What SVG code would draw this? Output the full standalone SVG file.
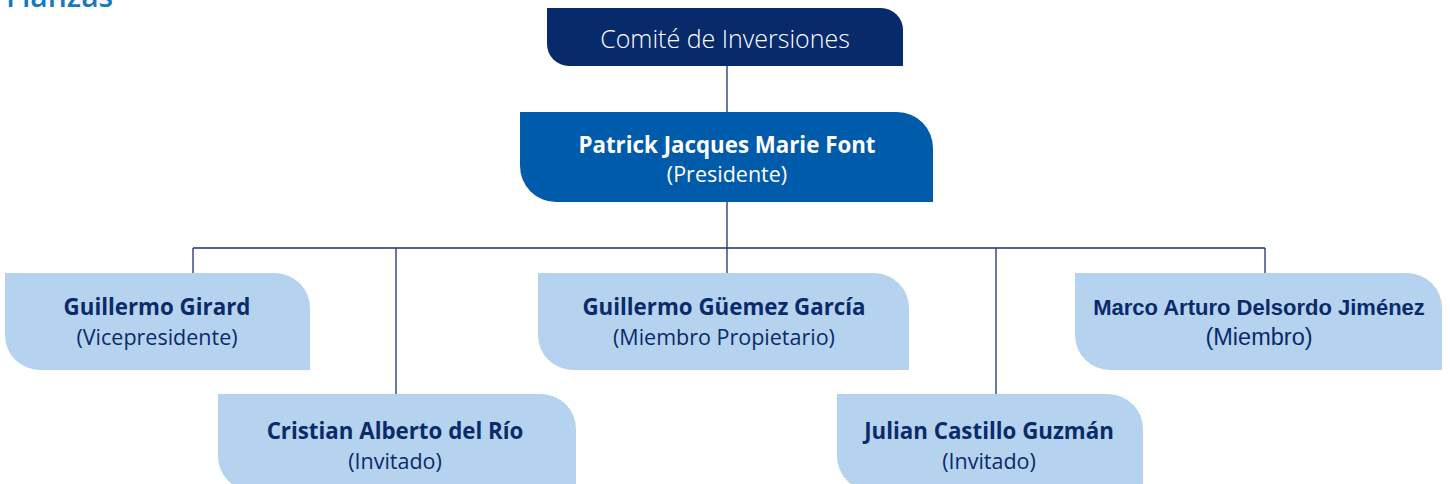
<svg xmlns="http://www.w3.org/2000/svg" width="1450" height="484" viewBox="0 0 1450 484">
<style>
.lt{fill:#b5d3ee}
.nm{font-family:"Open Sans","Liberation Sans",sans-serif;font-weight:700;font-size:22.3px;fill:#0b2a69;text-anchor:middle}
.rl{font-family:"Open Sans","Liberation Sans",sans-serif;font-weight:400;font-size:21.5px;fill:#0b2a69;text-anchor:middle}
.ln{stroke:#1c3373;stroke-width:1.3;fill:none}
</style>
<rect width="1450" height="484" fill="#ffffff"/>
<text x="6" y="7" font-family="Open Sans, Liberation Sans, sans-serif" font-weight="600" font-size="30" fill="#1479c4">Fianzas</text>
<g id="connectors">
<path class="ln" d="M727 66V112M727 202V248M193 248H1265M193 248V273M396 248V394M727 248V273M996 248V394M1265 248V273"/>
</g>
<g id="comite">
<path d="M547 8H881A22 22 0 0 1 903 30V66H569A22 22 0 0 1 547 44Z" fill="#062a6a"/>
<text x="725" y="48" font-family="Open Sans, Liberation Sans, sans-serif" font-weight="300" font-size="25" fill="#ffffff" text-anchor="middle">Comité de Inversiones</text>
</g>
<g id="presidente">
<path d="M520 112H897A36 36 0 0 1 933 148V202H556A36 36 0 0 1 520 166Z" fill="#005caa"/>
<text class="nm" x="727" y="153" style="fill:#fff">Patrick Jacques Marie Font</text>
<text class="rl" x="727" y="182" style="fill:#fff">(Presidente)</text>
</g>
<g id="girard">
<path class="lt" d="M5 273H275A35 35 0 0 1 310 308V370H40A35 35 0 0 1 5 335Z"/>
<text class="nm" x="157" y="315">Guillermo Girard</text>
<text class="rl" x="157" y="345">(Vicepresidente)</text>
</g>
<g id="guemez">
<path class="lt" d="M538 273H874A35 35 0 0 1 909 308V370H573A35 35 0 0 1 538 335Z"/>
<text class="nm" x="724" y="315">Guillermo Güemez García</text>
<text class="rl" x="724" y="345">(Miembro Propietario)</text>
</g>
<g id="delsordo">
<path class="lt" d="M1075 273H1407A35 35 0 0 1 1442 308V370H1110A35 35 0 0 1 1075 335Z"/>
<text x="1259" y="315" font-family="Liberation Sans, Arial, sans-serif" font-weight="700" font-size="22" fill="#0b2a69" text-anchor="middle" letter-spacing="0">Marco Arturo Delsordo Jiménez</text>
<text x="1259" y="345" font-family="Liberation Sans, Arial, sans-serif" font-size="23.5" fill="#0b2a69" text-anchor="middle">(Miembro)</text>
</g>
<g id="delrio">
<path class="lt" d="M218 394H541A35 35 0 0 1 576 429V491H253A35 35 0 0 1 218 456Z"/>
<text class="nm" x="395" y="439">Cristian Alberto del Río</text>
<text class="rl" x="395" y="469">(Invitado)</text>
</g>
<g id="castillo">
<path class="lt" d="M837 394H1108A35 35 0 0 1 1143 429V491H872A35 35 0 0 1 837 456Z"/>
<text class="nm" x="989" y="439">Julian Castillo Guzmán</text>
<text class="rl" x="989" y="469">(Invitado)</text>
</g>
</svg>
